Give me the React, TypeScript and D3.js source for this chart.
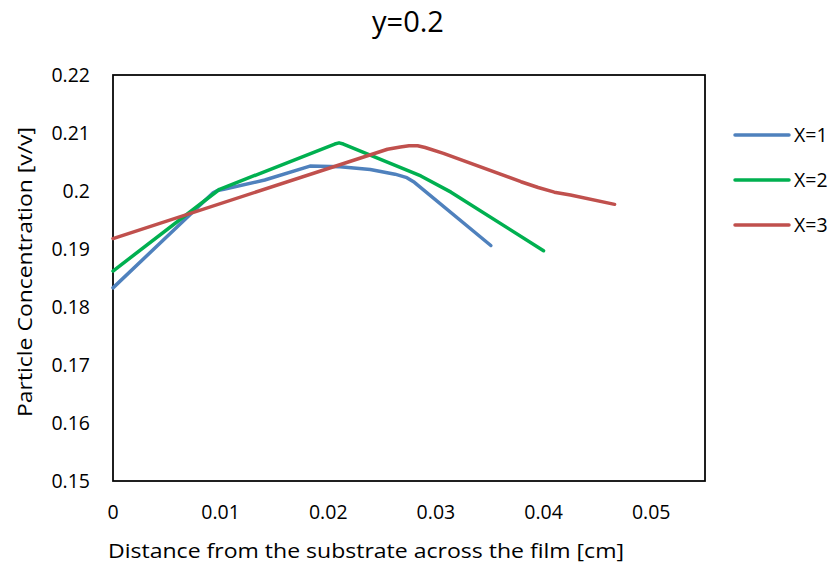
import React from "react";
import * as d3 from "d3";

const title = "y=0.2";
const xLabel = "Distance from the substrate across the film [cm]";
const yLabel = "Particle Concentration [v/v]";
const seriesNames = ["X=1", "X=2", "X=3"];
const seriesColors = ["#4F81BD", "#00B050", "#C0504D"];

const x1 = [0, 0.0093, 0.0097, 0.0103, 0.0141, 0.0183, 0.0211, 0.0239, 0.0262, 0.0273, 0.028, 0.0351];
const y1 = [0.1833, 0.1997, 0.2001, 0.2003, 0.2019, 0.2043, 0.2042, 0.2037, 0.2029, 0.2023, 0.2015, 0.1906];
const x2 = [0, 0.0099, 0.0106, 0.0206, 0.021, 0.0214, 0.0286, 0.0314, 0.04];
const y2 = [0.1862, 0.2003, 0.2008, 0.2081, 0.2083, 0.2081, 0.2026, 0.1998, 0.1897];
const x3 = [0, 0.0255, 0.0267, 0.0275, 0.0283, 0.029, 0.0307, 0.0379, 0.0395, 0.041, 0.0425, 0.0466];
const y3 = [0.1918, 0.2072, 0.2076, 0.2078, 0.2078, 0.2075, 0.2065, 0.2016, 0.2006, 0.1998, 0.1993, 0.1977];

const xTicks = [0, 0.01, 0.02, 0.03, 0.04, 0.05];
const yTicks = [0.15, 0.16, 0.17, 0.18, 0.19, 0.2, 0.21, 0.22];

const W = 833;
const H = 565;
const FONT = "'Open Sans', 'Liberation Sans', sans-serif";

export default function App() {
  const x = d3.scaleLinear().domain([0, 0.055]).range([113, 705]);
  const y = d3.scaleLinear().domain([0.15, 0.22]).range([481, 75]);
  const series = [
    { xs: x1, ys: y1 },
    { xs: x2, ys: y2 },
    { xs: x3, ys: y3 },
  ];
  const line = d3
    .line<[number, number]>()
    .x((d) => x(d[0]))
    .y((d) => y(d[1]))
    .curve(d3.curveLinear);

  return (
    <div style={{ position: "absolute", left: 0, top: 0 }}>
      <svg width={W} height={H} style={{ display: "block", background: "#fff" }}>
        <rect x={0} y={0} width={W} height={H} fill="#fff" />
        <text x={408} y={32} textAnchor="middle" fontFamily={FONT} fontSize={29} fill="#000">
          {title}
        </text>
        <rect
          x={x(0)}
          y={y(0.22)}
          width={x(0.055) - x(0)}
          height={y(0.15) - y(0.22)}
          fill="none"
          stroke="#000"
          strokeWidth={1.75}
        />
        {yTicks.map((t) => (
          <text
            key={t}
            x={90}
            y={y(t)}
            dy="0.36em"
            textAnchor="end"
            fontFamily={FONT}
            fontSize={19.5}
            fill="#000"
          >
            {String(t)}
          </text>
        ))}
        {xTicks.map((t) => (
          <text
            key={t}
            x={x(t)}
            y={512}
            dy="0.36em"
            textAnchor="middle"
            fontFamily={FONT}
            fontSize={19.5}
            fill="#000"
          >
            {String(t)}
          </text>
        ))}
        <text
          x={366}
          y={551}
          dy="0.36em"
          textAnchor="middle"
          fontFamily={FONT}
          fontSize={20.5}
          textLength={516}
          lengthAdjust="spacingAndGlyphs"
          fill="#000"
        >
          {xLabel}
        </text>
        <text
          transform={`translate(25,272) rotate(-90)`}
          dy="0.36em"
          textAnchor="middle"
          fontFamily={FONT}
          fontSize={20.5}
          textLength={290}
          lengthAdjust="spacingAndGlyphs"
          fill="#000"
        >
          {yLabel}
        </text>
        {series.map((s, i) => (
          <path
            key={i}
            d={line(s.xs.map((v, j) => [v, s.ys[j]] as [number, number])) || ""}
            fill="none"
            stroke={seriesColors[i]}
            strokeWidth={3.5}
            strokeLinecap="round"
            strokeLinejoin="round"
          />
        ))}
        {seriesNames.map((n, i) => (
          <g key={n} transform={`translate(0,${135 + i * 45})`}>
            <line x1={735} x2={789} y1={0} y2={0} stroke={seriesColors[i]} strokeWidth={3.5} strokeLinecap="round" />
            <text x={794} y={0} dy="0.36em" fontFamily={FONT} fontSize={19.5} fill="#000">
              {n}
            </text>
          </g>
        ))}
      </svg>
    </div>
  );
}
